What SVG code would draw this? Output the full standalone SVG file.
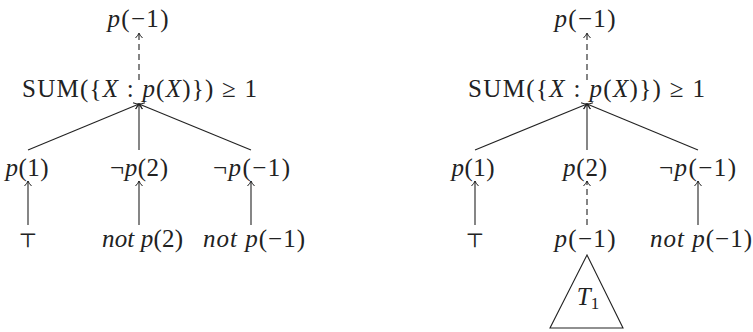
<svg xmlns="http://www.w3.org/2000/svg" width="753" height="332" viewBox="0 0 753 332">
<style>
text { font-family: "Liberation Serif", "Times New Roman", serif; font-size: 25px; fill: #222; text-anchor: middle; }
.i { font-style: italic; }
.sub { font-size: 17px; }
.top { font-family: "DejaVu Serif", serif; font-size: 20px; }
.edge { stroke: #222; stroke-width: 1.1; fill: none; marker-end: url(#arr); }
.dash { stroke-dasharray: 6 4; }
.tri { stroke: #222; stroke-width: 1.1; fill: none; }
</style>
<defs>
<marker id="arr" viewBox="-7 -5 9 10" markerWidth="9" markerHeight="10" refX="0" refY="0" orient="auto" markerUnits="userSpaceOnUse">
<path d="M-5,-3.5 Q-2,-0.6 0,0 Q-2,0.6 -5,3.5" stroke="#222" stroke-width="1" fill="none"/>
</marker>
</defs>
<g id="connectors">
<line class="edge dash" x1="139" y1="80" x2="139" y2="33"/>
<line class="edge" x1="28" y1="150" x2="139" y2="104"/>
<line class="edge" x1="139" y1="150" x2="139" y2="104"/>
<line class="edge" x1="251" y1="150" x2="139" y2="104"/>
<line class="edge" x1="28" y1="225" x2="28" y2="181"/>
<line class="edge" x1="139" y1="225" x2="139" y2="181"/>
<line class="edge" x1="251" y1="225" x2="251" y2="181"/>
<line class="edge dash" x1="587" y1="80" x2="587" y2="33"/>
<line class="edge" x1="475" y1="150" x2="587" y2="104"/>
<line class="edge" x1="587" y1="150" x2="587" y2="104"/>
<line class="edge" x1="698" y1="150" x2="587" y2="104"/>
<line class="edge" x1="475" y1="225" x2="475" y2="181"/>
<line class="edge dash" x1="587" y1="225" x2="587" y2="181"/>
<line class="edge" x1="698" y1="225" x2="698" y2="181"/>
</g>
<g id="L-top"><text x="138" y="27" textLength="61"><tspan class="i">p</tspan>(−1)</text></g>
<g id="L-sum"><text x="139.5" y="97" textLength="235">SUM({<tspan class="i">X</tspan> : <tspan class="i">p</tspan>(<tspan class="i">X</tspan>)}) ≥ 1</text></g>
<g id="L-p1"><text x="27" y="176" textLength="43"><tspan class="i">p</tspan>(1)</text></g>
<g id="L-np2"><text x="139" y="176" textLength="58">¬<tspan class="i">p</tspan>(2)</text></g>
<g id="L-npm1"><text x="251.5" y="176" textLength="77">¬<tspan class="i">p</tspan>(−1)</text></g>
<g id="L-top-true"><text class="top" x="28" y="247">⊤</text></g>
<g id="L-notp2"><text x="142.5" y="247" textLength="81"><tspan class="i">not p</tspan>(2)</text></g>
<g id="L-notpm1"><text x="254" y="247" textLength="102"><tspan class="i">not p</tspan>(−1)</text></g>
<g id="R-top"><text x="585" y="27" textLength="61"><tspan class="i">p</tspan>(−1)</text></g>
<g id="R-sum"><text x="586.5" y="97" textLength="237">SUM({<tspan class="i">X</tspan> : <tspan class="i">p</tspan>(<tspan class="i">X</tspan>)}) ≥ 1</text></g>
<g id="R-p1"><text x="473" y="176" textLength="43"><tspan class="i">p</tspan>(1)</text></g>
<g id="R-p2"><text x="585" y="176" textLength="44"><tspan class="i">p</tspan>(2)</text></g>
<g id="R-npm1"><text x="697.5" y="176" textLength="77">¬<tspan class="i">p</tspan>(−1)</text></g>
<g id="R-top-true"><text class="top" x="475" y="247">⊤</text></g>
<g id="R-pm1"><text x="585" y="247" textLength="61"><tspan class="i">p</tspan>(−1)</text></g>
<g id="R-notpm1"><text x="701" y="247" textLength="102"><tspan class="i">not p</tspan>(−1)</text></g>
<g id="R-T1">
<polygon class="tri" points="587,255 550,328 623,328"/>
<text x="588" y="305" font-size="27"><tspan class="i">T</tspan><tspan class="sub" dy="4">1</tspan></text>
</g>
</svg>
